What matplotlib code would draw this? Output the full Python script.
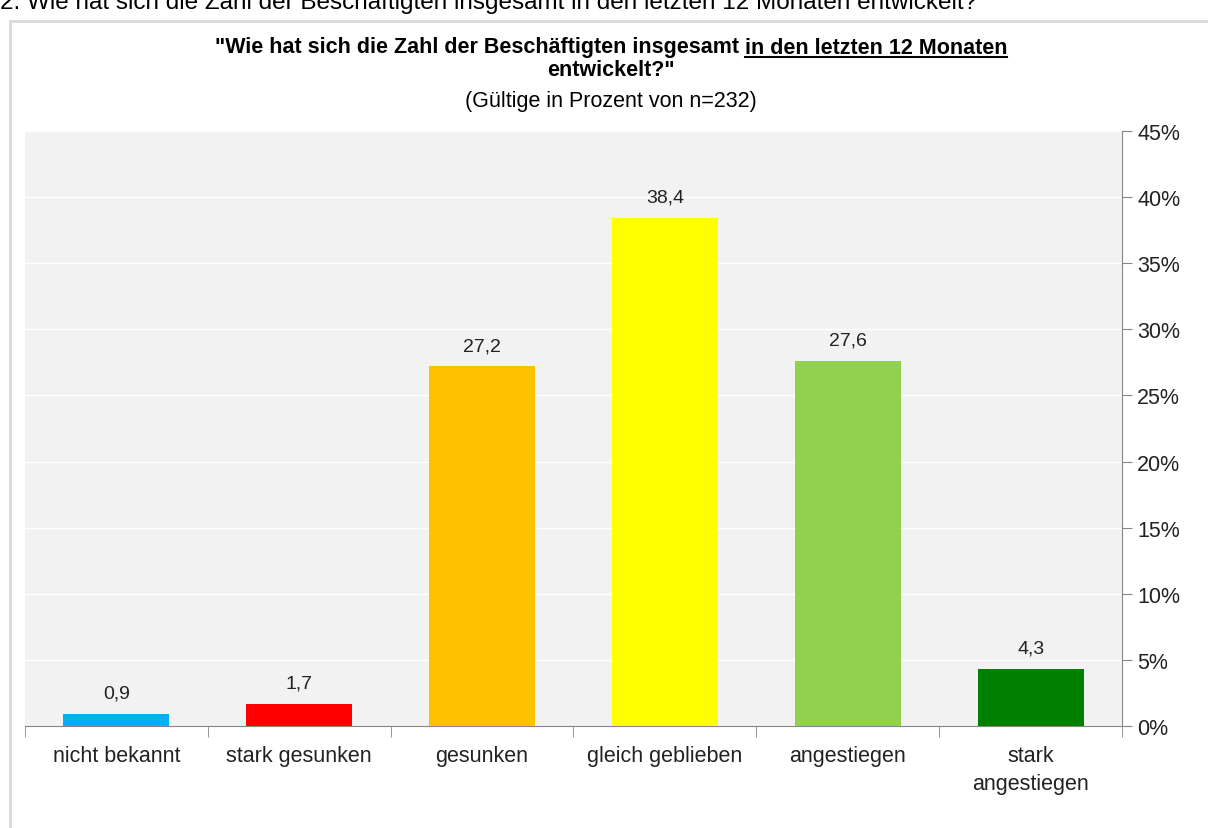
import matplotlib.pyplot as plt
import matplotlib.patches as mpatches
from matplotlib.lines import Line2D
from matplotlib.ticker import FixedLocator, PercentFormatter

plt.rcParams['font.family'] = ['Liberation Sans', 'DejaVu Sans']

# data
categories = ["nicht bekannt", "stark gesunken", "gesunken", "gleich geblieben",
              "angestiegen", "stark\nangestiegen"]
values = [0.9, 1.7, 27.2, 38.4, 27.6, 4.3]
colours = ['#00B0F0', '#FF0000', '#FFC000', '#FFFF00', '#92D050', '#008000']
value_labels = ["0,9", "1,7", "27,2", "38,4", "27,6", "4,3"]

fig = plt.figure(figsize=(12.08, 8.29), dpi=100)
ax = fig.add_axes([25 / 1208, 1 - 727 / 829, (1122 - 25) / 1208, (727 - 132) / 829])

# frame around the chart
fig.patches.append(mpatches.Rectangle((10 / 1208, -0.1), 1.2, 1 - 22 / 829 + 0.1,
                                      transform=fig.transFigure, fill=False,
                                      edgecolor='#D9D9D9', linewidth=2))

# cut off heading at the very top
fig.text(0.0, 1 - 3 / 829, "2. Wie hat sich die Zahl der Beschäftigten insgesamt in den letzten 12 Monaten entwickelt?",
         fontsize=17.5, va='center', ha='left')

ax.set_facecolor('#F2F2F2')
x = range(len(categories))
ax.bar(x, values, width=0.58, color=colours, zorder=3)
for i in x:
    ax.annotate(value_labels[i], (i, values[i]), xytext=(0, 15), textcoords='offset points',
                ha='center', va='center', fontsize=14, color='#222222')

ax.set_xlim(-0.5, 5.5)
ax.set_ylim(0, 45)
ax.set_yticks(range(0, 46, 5))
ax.yaxis.set_major_formatter(PercentFormatter(decimals=0))
ax.yaxis.tick_right()
ax.grid(axis='y', color='white', linewidth=1, zorder=0)
ax.set_axisbelow(True)
ax.tick_params(axis='y', direction='out', length=7, color='#868686', labelsize=15.5,
               pad=4, labelcolor='#222222')

ax.set_xticks(list(x))
ax.set_xticklabels(categories, fontsize=15.5, linespacing=1.4)
ax.xaxis.set_minor_locator(FixedLocator([i - 0.5 for i in range(len(categories) + 1)]))
ax.tick_params(axis='x', which='major', length=0, pad=14, labelcolor='#222222')
ax.tick_params(axis='x', which='minor', length=8, color='#868686', direction='out')

for s in ['top', 'left']:
    ax.spines[s].set_visible(False)
ax.spines['right'].set_color('#868686')
ax.spines['bottom'].set_color('#868686')

# title with underlined part
t1 = "\"Wie hat sich die Zahl der Beschäftigten insgesamt "
t2 = "in den letzten 12 Monaten"
y1 = 1 - 48 / 829
fs = 15.5
fig.canvas.draw()
r = fig.canvas.get_renderer()
a = fig.text(0, y1, t1, fontsize=fs, fontweight='bold', va='center', ha='left')
b = fig.text(0, y1, t2, fontsize=fs, fontweight='bold', va='center', ha='left')
wa = a.get_window_extent(r).width / fig.bbox.width
wb = b.get_window_extent(r).width / fig.bbox.width
x0 = 0.506 - (wa + wb) / 2
a.set_x(x0)
b.set_x(x0 + wa)
bb = b.get_window_extent(r)
uy = (bb.y0 + 1) / fig.bbox.height
fig.add_artist(Line2D([x0 + wa, x0 + wa + wb], [uy, uy], color='black', linewidth=1.5,
                      transform=fig.transFigure))
fig.text(0.506, 1 - 71 / 829, "entwickelt?\"", fontsize=fs, fontweight='bold',
         va='center', ha='center')
fig.text(0.506, 1 - 101 / 829, "(Gültige in Prozent von n=232)", fontsize=15.5,
         va='center', ha='center')

fig.savefig("out.png", dpi=100)
